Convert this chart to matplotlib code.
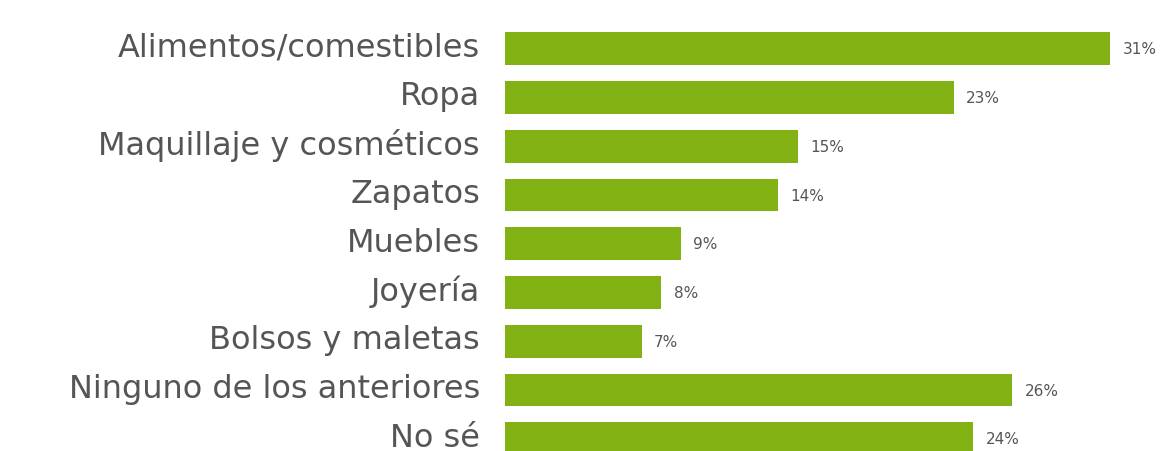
import matplotlib
matplotlib.use("Agg")
import matplotlib.pyplot as plt
from matplotlib.transforms import ScaledTranslation

categories = ["Alimentos/comestibles", "Ropa", "Maquillaje y cosméticos", "Zapatos",
              "Muebles", "Joyería", "Bolsos y maletas", "Ninguno de los anteriores", "No sé"]
values = [31, 23, 15, 14, 9, 8, 7, 26, 24]
value_labels = ["31%", "23%", "15%", "14%", "9%", "8%", "7%", "26%", "24%"]

bar_color = "#82B113"
text_color = "#555555"

fig = plt.figure(figsize=(11.61, 4.52), dpi=100)
ax = fig.add_axes([505/1161, 0, 656/1161, 1])
y = list(range(len(categories)))
ax.barh(y, values, height=0.67, color=bar_color)
ax.set_xlim(0, 31 * 656 / 605)
ax.set_ylim(8.25, -1.02)
ax.set_yticks(y)
ax.set_yticklabels(categories, fontsize=23, color=text_color, family=["DejaVu Sans"])
ax.tick_params(axis="y", length=0, pad=18)
shift = ScaledTranslation(0, 5 / 100, fig.dpi_scale_trans)
for lbl in ax.get_yticklabels():
    lbl.set_transform(lbl.get_transform() + shift)
ax.set_xticks([])
for s in ax.spines.values():
    s.set_visible(False)
for yi, v, lab in zip(y, values, value_labels):
    ax.annotate(lab, (v, yi), xytext=(9, 0), textcoords="offset points",
                va="center", ha="left", fontsize=11, color=text_color,
                family=["DejaVu Sans"])

fig.savefig("out.png", dpi=100)
